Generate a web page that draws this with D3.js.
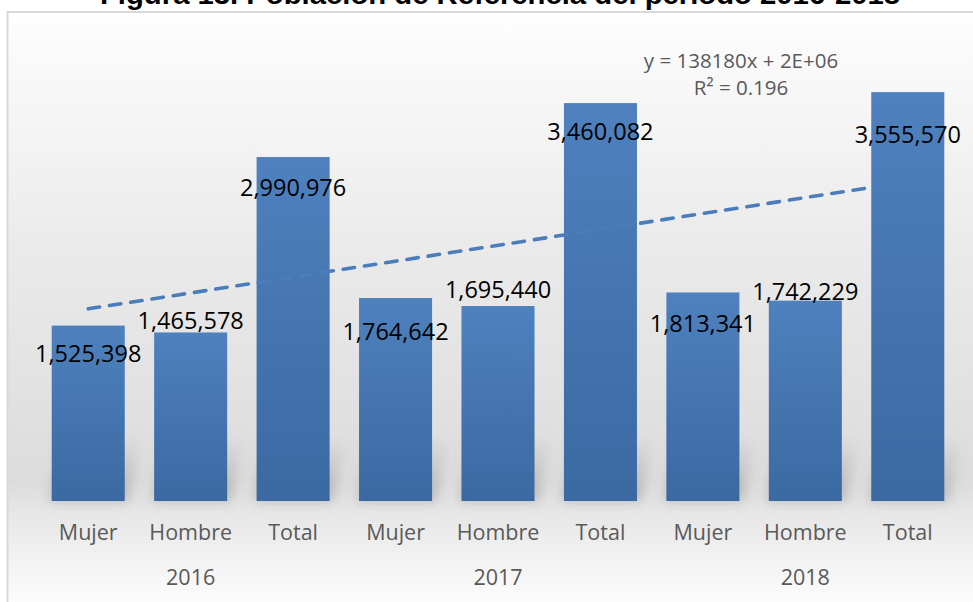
<!DOCTYPE html>
<html lang="es">
<head>
    <meta charset="UTF-8">
    <title>Figura 13</title>
    <script src="https://cdn.jsdelivr.net/npm/d3@7"></script>
    <style>
        body { margin: 0; background: #fff; }
    </style>
</head>
<body>
<svg width="973" height="602" font-family="'Open Sans', sans-serif"></svg>
<script>
    // datos
    var categorias = ["Mujer", "Hombre", "Total", "Mujer", "Hombre", "Total", "Mujer", "Hombre", "Total"];
    var anios = ["2016", "2017", "2018"];
    var valores = [1525398, 1465578, 2990976, 1764642, 1695440, 3460082, 1813341, 1742229, 3555570];
    var ecuacion = ["y = 138180x + 2E+06", "R² = 0.196"];
    // desplazamiento vertical de cada etiqueta respecto al borde superior de la barra
    var labelDy = [36, -3, 39, 42, -8, 37, 40, -1, 51];

    var svg = d3.select("svg"), width = +svg.attr("width"), height = +svg.attr("height");
    var defs = svg.append("defs");

    // fondo con degradado
    var bg = defs.append("linearGradient").attr("id", "bg").attr("x1", 0).attr("y1", 0).attr("x2", 0).attr("y2", 1);
    [[0, "#ffffff"], [0.05, "#fbfbfb"], [0.4, "#eaeaea"], [0.78, "#dcdcdc"], [0.835, "#e7e7e7"], [1, "#ffffff"]]
        .forEach(s => bg.append("stop").attr("offset", s[0]).attr("stop-color", s[1]));

    var barGrad = defs.append("linearGradient").attr("id", "barGrad").attr("x1", 0).attr("y1", 0).attr("x2", 0).attr("y2", 1);
    barGrad.append("stop").attr("offset", 0).attr("stop-color", "#4e81be");
    barGrad.append("stop").attr("offset", 1).attr("stop-color", "#3b69a2");

    var shGrad = defs.append("linearGradient").attr("id", "shGrad").attr("x1", 0).attr("y1", 0).attr("x2", 0).attr("y2", 1);
    shGrad.append("stop").attr("offset", 0).attr("stop-color", "#909090").attr("stop-opacity", 0);
    shGrad.append("stop").attr("offset", 1).attr("stop-color", "#909090").attr("stop-opacity", 0.55);

    defs.append("filter").attr("id", "blur").attr("x", "-50%").attr("y", "-50%").attr("width", "200%").attr("height", "200%")
        .append("feGaussianBlur").attr("stdDeviation", 6);

    svg.append("rect").attr("x", 7.5).attr("y", 12).attr("width", width).attr("height", height)
        .attr("fill", "url(#bg)").attr("stroke", "#d9d9d9").attr("stroke-width", 2);

    svg.append("text").text("Figura 13. Población de Referencia del periodo 2016-2018")
        .attr("x", 500).attr("y", 4).attr("text-anchor", "middle")
        .attr("font-family", "'Liberation Sans', Arial, sans-serif").attr("font-weight", "bold")
        .attr("font-size", 28).attr("textLength", 800).attr("lengthAdjust", "spacingAndGlyphs");

    var x = d3.scaleBand().domain(d3.range(valores.length)).range([37, 959])
        .paddingInner(0.287).paddingOuter(0.1435);
    var y = d3.scaleLinear().domain([0, 4000000]).range([501, 41]);

    // sombras
    svg.append("g").selectAll("path").data(valores).enter().append("path")
        .attr("d", (d, i) => {
            var x0 = x(i), x1 = x(i) + x.bandwidth(), b = y(0);
            return "M" + (x0 - 2) + "," + b + "L" + (x1 + 4) + "," + b +
                "L" + (x1 + 16) + "," + (b - 65) + "L" + (x0 + 8) + "," + (b - 65) + "Z";
        })
        .attr("fill", "url(#shGrad)")
        .attr("filter", "url(#blur)");

    // barras
    svg.append("g").selectAll("rect").data(valores).enter().append("rect")
        .attr("x", (d, i) => x(i))
        .attr("y", d => y(d))
        .attr("width", x.bandwidth())
        .attr("height", d => y(0) - y(d))
        .attr("fill", "url(#barGrad)");

    // línea de tendencia lineal (mínimos cuadrados)
    var xs = d3.range(1, valores.length + 1);
    var mx = d3.mean(xs), my = d3.mean(valores);
    var pendiente = d3.sum(xs, (v, i) => (v - mx) * (valores[i] - my)) / d3.sum(xs, v => (v - mx) * (v - mx));
    var ordenada = my - pendiente * mx;

    var linea = d3.line().x(d => x(d - 1) + x.bandwidth() / 2).y(d => y(ordenada + pendiente * d));
    svg.append("path").datum([1, valores.length]).attr("d", linea)
        .attr("fill", "none").attr("stroke", "#4a7dba").attr("stroke-width", 3.6)
        .attr("stroke-dasharray", "11.5,10").attr("stroke-linecap", "round");

    svg.append("g").attr("fill", "#595959").attr("font-size", 20.5).attr("text-anchor", "middle")
        .selectAll("text").data(ecuacion).enter().append("text")
        .attr("x", 741).attr("y", (d, i) => 68 + i * 27).text(d => d);

    // etiquetas de datos
    svg.append("g").attr("font-size", 23.5).attr("text-anchor", "middle").attr("fill", "#000")
        .selectAll("text").data(valores).enter().append("text")
        .attr("x", (d, i) => x(i) + x.bandwidth() / 2)
        .attr("y", (d, i) => y(d) + labelDy[i])
        .text(d => d3.format(",")(d));

    // eje x
    var ejes = svg.append("g").attr("fill", "#595959").attr("font-size", 21.5).attr("text-anchor", "middle");
    ejes.selectAll(".cat").data(categorias).enter().append("text").attr("class", "cat")
        .attr("x", (d, i) => x(i) + x.bandwidth() / 2).attr("y", 540).text(d => d);
    ejes.selectAll(".anio").data(anios).enter().append("text").attr("class", "anio")
        .attr("x", (d, i) => x(i * 3 + 1) + x.bandwidth() / 2).attr("y", 585).text(d => d);
</script>
</body>
</html>
